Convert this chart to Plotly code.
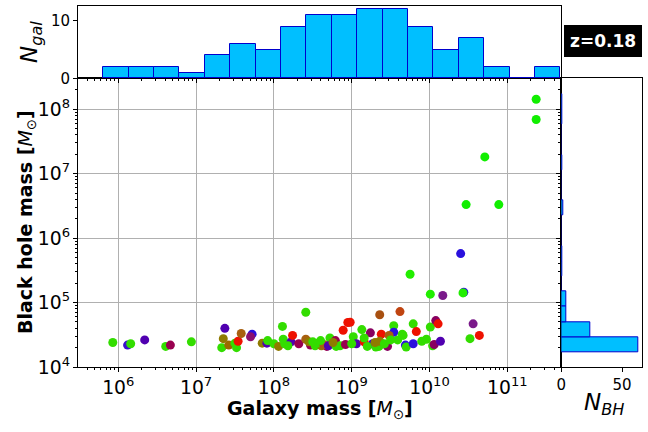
import plotly.graph_objects as go

# galaxy stellar mass and black hole mass (log10 Msun), one entry per galaxy
log_mgal = [5.93, 6.12, 6.16, 6.34, 6.61, 6.67, 6.94, 7.37, 7.35, 7.33,
            7.42, 7.50, 7.52, 7.54, 7.58, 7.72, 7.70, 7.85, 7.91, 7.92,
            8.00, 8.06, 8.11, 8.12, 8.14, 8.22, 8.24, 8.32, 8.41, 8.41,
            8.18, 8.47, 8.53, 8.61, 8.68, 8.72, 8.45, 8.56, 8.64, 8.70,
            8.60, 8.50, 8.79, 8.85, 8.89, 8.95, 8.98, 9.02, 9.06, 8.80,
            8.92, 9.00, 8.76, 9.13, 9.24, 9.38, 9.36, 9.27, 9.16, 9.31,
            9.35, 9.16, 9.36, 9.20, 9.30, 9.54, 9.54, 9.62, 9.65, 9.48,
            9.46, 9.42, 9.50, 9.59, 9.66, 9.69, 9.70, 9.75, 10.01, 9.79,
            9.83, 10.01, 9.96, 10.04, 9.79, 9.90, 10.17, 10.08, 10.11, 10.06,
            10.14, 10.40, 10.44, 10.43, 10.56, 10.64, 10.52, 10.47, 10.71, 10.89,
            11.37, 11.37]
log_mbh = [4.38, 4.34, 4.36, 4.42, 4.32, 4.34, 4.39, 4.60, 4.44, 4.30,
           4.34, 4.37, 4.30, 4.40, 4.52, 4.51, 4.47, 4.37, 4.37, 4.41,
           4.36, 4.32, 4.63, 4.43, 4.36, 4.39, 4.49, 4.36, 4.85, 4.43,
           4.33, 4.34, 4.33, 4.33, 4.32, 4.45, 4.39, 4.37, 4.35, 4.33,
           4.41, 4.39, 4.41, 4.33, 4.57, 4.69, 4.695, 4.47, 4.36, 4.32,
           4.35, 4.36, 4.38, 4.58, 4.53, 4.51, 4.81, 4.36, 4.39, 4.31,
           4.32, 4.45, 4.40, 4.32, 4.38, 4.64, 4.54, 4.86, 4.51, 4.49,
           4.32, 4.36, 4.42, 4.42, 4.49, 4.34, 4.31, 5.44, 5.13, 4.67,
           4.55, 4.62, 4.43, 4.33, 4.36, 4.40, 5.11, 4.72, 4.67, 4.35,
           4.40, 5.76, 5.16, 5.15, 4.67, 4.49, 4.44, 6.52, 7.26, 6.52,
           8.155, 7.84]
point_colors = ['#33dd00', '#3a10cc', '#33dd00', '#5000b0', '#33dd00', '#990050', '#33dd00', '#5000b0', '#8f7a00', '#33dd00',
                '#9a6a00', '#33dd00', '#33dd00', '#ee1100', '#a86010', '#2a10dd', '#8a1070', '#8f7a00', '#5000b0', '#33dd00',
                '#33dd00', '#8f7a00', '#33dd00', '#33dd00', '#33dd00', '#5000b0', '#ee1100', '#990050', '#33dd00', '#a86010',
                '#33dd00', '#990050', '#33dd00', '#8f7a00', '#990050', '#33dd00', '#8f7a00', '#33dd00', '#a86010', '#5000b0',
                '#33dd00', '#33dd00', '#990050', '#33dd00', '#ee1100', '#ee1100', '#ee1100', '#33dd00', '#5000b0', '#33dd00',
                '#990050', '#33dd00', '#8f7a00', '#33dd00', '#880060', '#ee1100', '#a85010', '#2a10dd', '#ee1100', '#33dd00',
                '#33dd00', '#33dd00', '#8f7a00', '#33dd00', '#8f7a00', '#33dd00', '#2a10dd', '#c04410', '#33dd00', '#a86010',
                '#880060', '#33dd00', '#33dd00', '#33dd00', '#33dd00', '#2a10dd', '#33dd00', '#22ee00', '#22ee00', '#33dd00',
                '#ee1100', '#33dd00', '#33dd00', '#33dd00', '#2a10dd', '#33dd00', '#7a1a8a', '#880060', '#ee1100', '#880060',
                '#5000b0', '#2a10dd', '#2a10dd', '#22ee00', '#7a1a8a', '#ee1100', '#33dd00', '#11ee00', '#11ee00', '#11ee00',
                '#11ee00', '#11ee00']

# histogram of galaxy masses (log10 bin edges and counts)
gal_edges = [5.807, 6.133, 6.460, 6.786, 7.113, 7.439, 7.765, 8.092, 8.418, 8.745,
             9.071, 9.397, 9.724, 10.050, 10.376, 10.703, 11.029, 11.356, 11.682]
n_gal = [2, 2, 2, 1, 4, 6, 5, 9, 11, 11, 12, 12, 9, 5, 7, 2, 0, 2]

# histogram of black hole masses
bh_edges = [4.228, 4.464, 4.699, 4.935, 5.170, 5.406, 5.642, 5.877, 6.113, 6.348,
            6.584, 6.820, 7.055, 7.291, 7.526, 7.762, 7.997, 8.233]
n_bh = [63, 24, 4, 4, 0, 1, 1, 0, 0, 2, 0, 0, 1, 0, 0, 1, 1]

redshift_label = "z=0.18"

FONT = "DejaVu Sans"
HIST_FILL = "#00bfff"
HIST_EDGE = "#0000cd"


def log_bins(edges):
    # centre and width in linear units so bars land exactly on the log edges
    lo = [10 ** e for e in edges[:-1]]
    hi = [10 ** e for e in edges[1:]]
    return [(a + b) / 2 for a, b in zip(lo, hi)], [b - a for a, b in zip(lo, hi)]


fig = go.Figure()

fig.add_trace(go.Scatter(
    x=[10 ** v for v in log_mgal], y=[10 ** v for v in log_mbh],
    mode="markers", marker=dict(size=9, color=point_colors, line=dict(width=0)),
    xaxis="x", yaxis="y", showlegend=False))

gc, gw = log_bins(gal_edges)
fig.add_trace(go.Bar(
    x=gc, y=n_gal, width=gw, xaxis="x2", yaxis="y2",
    marker=dict(color=HIST_FILL, line=dict(color=HIST_EDGE, width=1)),
    showlegend=False))

bc, bw = log_bins(bh_edges)
fig.add_trace(go.Bar(
    y=bc, x=n_bh, width=bw, orientation="h", xaxis="x3", yaxis="y3",
    marker=dict(color=HIST_FILL, line=dict(color=HIST_EDGE, width=1)),
    showlegend=False))

xdom = [78 / 648, 561.3 / 648]
ydom = [1 - 367 / 432, 1 - 78.3 / 432]
xrange_log = [5.483, 11.693]
yrange_log = [4.0, 8.48]

axis_common = dict(showline=True, linecolor="black", linewidth=1, mirror=True,
                   ticks="outside", tickcolor="black", tickwidth=1, ticklen=4,
                   tickfont=dict(family=FONT, size=15, color="black"),
                   zeroline=False, automargin=False)
minor_log = dict(ticks="outside", ticklen=2, tickcolor="black", dtick="D1", showgrid=False)

fig.update_layout(
    width=648, height=432,
    margin=dict(l=0, r=0, t=0, b=0),
    paper_bgcolor="white", plot_bgcolor="white",
    bargap=0,
    font=dict(family=FONT, color="black"),
    xaxis=dict(axis_common, type="log", domain=xdom, range=xrange_log, anchor="y",
               dtick=1, exponentformat="power", showgrid=True, gridcolor="#b0b0b0",
               gridwidth=0.8, minor=minor_log),
    yaxis=dict(axis_common, type="log", domain=ydom, range=yrange_log, anchor="x",
               dtick=1, exponentformat="power", showgrid=True, gridcolor="#b0b0b0",
               gridwidth=0.8, minor=minor_log),
    xaxis2=dict(axis_common, type="log", domain=xdom, range=xrange_log, anchor="y2",
                dtick=1, showticklabels=False, showgrid=False, minor=minor_log),
    yaxis2=dict(axis_common, domain=[ydom[1], 1 - 6 / 432], range=[0, 12.6], anchor="x2",
                tickvals=[0, 10], showgrid=False),
    xaxis3=dict(axis_common, domain=[xdom[1], 641.7 / 648], range=[0, 66.15], anchor="y3",
                tickvals=[0, 50], showgrid=False),
    yaxis3=dict(axis_common, type="log", domain=ydom, range=yrange_log, anchor="x3",
                dtick=1, showticklabels=False, showgrid=False, minor=minor_log),
)

label_font = dict(family=FONT, size=19, color="black")
fig.add_annotation(text="<b>Galaxy mass [</b><i>M</i><sub>⊙</sub><b>]</b>",
                   x=320 / 648, y=1 - 409 / 432, font=label_font)
fig.add_annotation(text="<b>Black hole mass [</b><i>M</i><sub>⊙</sub><b>]</b>",
                   x=27 / 648, y=1 - 222 / 432, textangle=-90, font=label_font)
fig.add_annotation(text="<i>N</i><sub><i>gal</i></sub>",
                   x=31 / 648, y=1 - 42 / 432, textangle=-90,
                   font=dict(family=FONT, size=23, color="black"))
fig.add_annotation(text="<i>N</i><sub><i>BH</i></sub>",
                   x=604 / 648, y=1 - 404 / 432,
                   font=dict(family=FONT, size=23, color="black"))
fig.add_annotation(text="<b>" + redshift_label + "</b>",
                   x=603 / 648, y=1 - 41 / 432,
                   bgcolor="black", bordercolor="black", borderpad=5,
                   font=dict(family=FONT, size=17, color="white"))
fig.update_annotations(xref="paper", yref="paper", xanchor="center", yanchor="middle",
                       showarrow=False)

# the page body has a default 8px margin; drop it so the figure fills the window
fig.write_html("out.html", config={"displayModeBar": False},
               post_script="document.body.style.margin='0';")
